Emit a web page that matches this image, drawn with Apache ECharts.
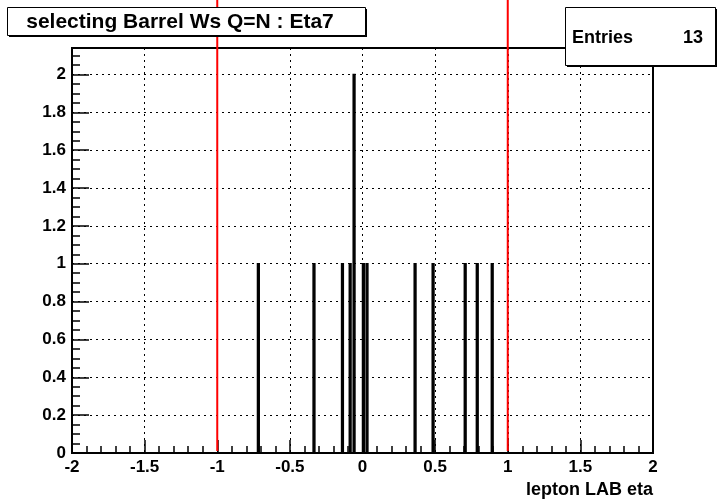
<!DOCTYPE html>
<html>
<head>
<meta charset="utf-8">
<script src="https://cdn.jsdelivr.net/npm/echarts@6/dist/echarts.min.js"></script>
<style>html,body{margin:0;padding:0;background:#fff;}#c{width:718px;height:502px;}</style>
</head>
<body>
<div id="c"></div>
<script>
// Histogram content (bin centers in lepton LAB eta, counts)
const etaCenters = [-0.717, -0.334, -0.138, -0.085, -0.058, 0.006, 0.031, 0.362, 0.486, 0.707, 0.790, 0.893];
const counts     = [1, 1, 1, 1, 2, 1, 1, 1, 1, 1, 1, 1];
const cutLines   = [-1, 1];
const titleText  = 'selecting Barrel Ws Q=N : Eta7';
const statsLabel = 'Entries';
const statsValue = '13';
const xTitle     = 'lepton LAB eta';

const binW = 0.012;
const FONT = '"Liberation Sans", Arial, sans-serif';

const chart = echarts.init(document.getElementById('c'), null, {renderer: 'canvas'});

const histData = etaCenters.map((x, i) => [x, counts[i]]);

chart.setOption({
  animation: false,
  backgroundColor: '#fff',
  grid: {left: 72, right: 65, top: 48, bottom: 49, show: true, borderColor: '#000', borderWidth: 2, backgroundColor: 'transparent'},
  xAxis: {
    type: 'value', min: -2, max: 2, interval: 0.5,
    axisLine: {show: true, onZero: false, lineStyle: {color: '#000', width: 2}},
    axisTick: {show: true, inside: true, length: 13, lineStyle: {color: '#000', width: 1.5}},
    minorTick: {show: true, splitNumber: 5, length: 7, lineStyle: {color: '#000', width: 1.5}},
    axisLabel: {color: '#000', fontFamily: FONT, fontWeight: 'bold', fontSize: 17, margin: 6,
      formatter: v => String(Math.round(v * 10) / 10)},
    splitLine: {show: true, lineStyle: {color: '#000', width: 1, type: [2, 4]}}
  },
  yAxis: {
    type: 'value', min: 0, max: 2.14, interval: 0.2,
    axisLine: {show: true, onZero: false, lineStyle: {color: '#000', width: 2}},
    axisTick: {show: true, inside: true, length: 17, lineStyle: {color: '#000', width: 1.5}},
    minorTick: {show: true, splitNumber: 4, length: 8, lineStyle: {color: '#000', width: 1.5}},
    axisLabel: {color: '#000', fontFamily: FONT, fontWeight: 'bold', fontSize: 17, margin: 6, showMaxLabel: false,
      formatter: v => String(Math.round(v * 10) / 10)},
    splitLine: {show: true, lineStyle: {color: '#000', width: 1, type: [2, 4]}}
  },
  series: [
    {
      type: 'custom',
      data: histData,
      z: 5,
      renderItem: function (params, api) {
        const x = api.value(0), c = api.value(1);
        const p0 = api.coord([x - binW / 2, 0]);
        const p1 = api.coord([x + binW / 2, c]);
        return {
          type: 'rect',
          shape: {x: p0[0], y: p1[1], width: p1[0] - p0[0], height: p0[1] - p1[1]},
          style: {fill: '#000', stroke: '#000', lineWidth: 1.5}
        };
      }
    },
    {
      type: 'custom',
      data: cutLines.map(v => [v]),
      clip: false,
      z: 4,
      renderItem: function (params, api) {
        const p0 = api.coord([api.value(0), 0]);
        return {
          type: 'line',
          shape: {x1: p0[0], y1: p0[1] - 2, x2: p0[0], y2: 0},
          style: {stroke: '#ff0000', lineWidth: 2}
        };
      }
    }
  ],
  graphic: [
    {type: 'rect', shape: {x: 9, y: 9, width: 358, height: 28}, style: {fill: '#000'}, z: 10},
    {type: 'rect', shape: {x: 7.5, y: 7.5, width: 358, height: 28}, style: {fill: '#fff', stroke: '#000', lineWidth: 1}, z: 11},
    {type: 'text', x: 180, y: 22, z: 12, style: {text: titleText, fill: '#000', font: 'bold 21px ' + FONT, align: 'center', verticalAlign: 'middle'}},
    {type: 'rect', shape: {x: 567, y: 9, width: 150, height: 58}, style: {fill: '#000'}, z: 10},
    {type: 'rect', shape: {x: 565.5, y: 7.5, width: 150, height: 58}, style: {fill: '#fff', stroke: '#000', lineWidth: 1}, z: 11},
    {type: 'text', x: 572, y: 38, z: 12, style: {text: statsLabel, fill: '#000', font: 'bold 18px ' + FONT, align: 'left', verticalAlign: 'middle'}},
    {type: 'text', x: 703, y: 38, z: 12, style: {text: statsValue, fill: '#000', font: 'bold 18px ' + FONT, align: 'right', verticalAlign: 'middle'}},
    {type: 'text', x: 653, y: 490, z: 12, style: {text: xTitle, fill: '#000', font: 'bold 18px ' + FONT, align: 'right', verticalAlign: 'middle'}}
  ]
});
</script>
</body>
</html>
